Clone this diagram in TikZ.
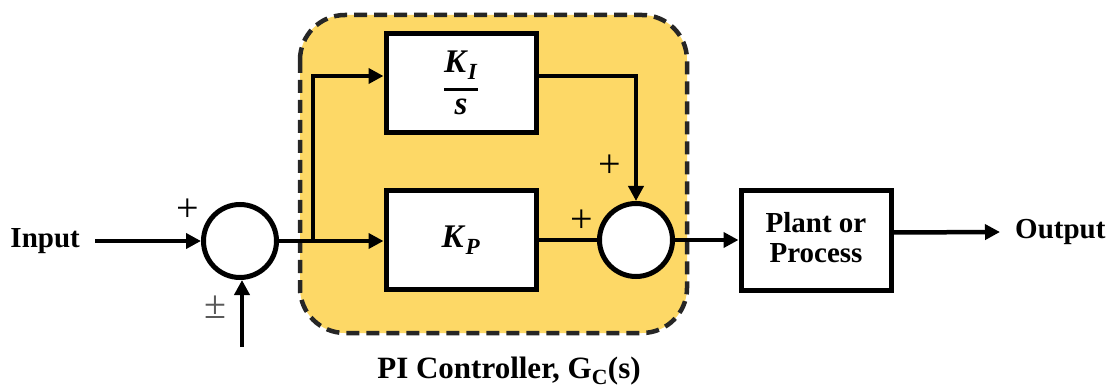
\documentclass[tikz,border=0pt]{standalone}
\usepackage{amsmath}
\usepackage{fontspec}
\setmainfont{Liberation Serif}
\usetikzlibrary{arrows.meta}
\definecolor{piyellow}{HTML}{FDD866}
\definecolor{dashgray}{HTML}{262626}
\tikzset{
  blk/.style={draw=black, line width=5pt, fill=white, minimum width=150pt, minimum height=99pt, inner sep=0pt, font=\fontsize{29}{34}\selectfont\bfseries},
  sumc/.style={circle, draw=black, line width=5pt, fill=white, minimum size=73pt, inner sep=0pt},
  arr/.style={line width=4.5pt, -{Triangle[length=15pt,width=15pt]}},
  ln/.style={line width=4.5pt},
  lbl/.style={font=\fontsize{29}{34}\selectfont\bfseries, inner sep=0pt},
  sgn/.style={font=\fontsize{40}{44}\selectfont, inner sep=0pt},
}
\begin{document}
\begin{tikzpicture}[x=1pt, y=-1pt]
\useasboundingbox (0,0) rectangle (1114,390);
% controller region
\draw[fill=piyellow, draw=dashgray, line width=4.5pt, dash pattern=on 13pt off 7pt, rounded corners=45pt] (300,15) rectangle (687,333);
\node[lbl, font=\fontsize{31}{36}\selectfont\bfseries] (cap) at (509,371) {PI Controller, G\textsubscript{C}(s)};
% blocks
\node[blk, font=\fontsize{33}{38}\selectfont] (ki) at (461,83) {$\genfrac{}{}{2.8pt}{0}{\textbf{\textit{K}}_{\textbf{\textit{I}}}}{\textbf{\textit{s}}}$};
\node[blk, font=\fontsize{33}{38}\selectfont] (kp) at (461,240) {$\textbf{\textit{K}}_{\textbf{\textit{P}}}$};
\node[blk, minimum height=100pt] (plant) at (816,240.5) {\begin{tabular}{c}Plant or\\[-4pt]Process\end{tabular}};
\node[sumc] (s1) at (240,241) {};
\node[sumc] (s2) at (636,240) {};
% text
\node[lbl, anchor=east] (in) at (80,241) {Input};
\node[lbl, anchor=west] (out) at (1015,232) {Output};
\node[sgn] (p1) at (188,210) {+};
\node[sgn, text=black!65] (pm) at (215,307) {±};
\node[sgn] (p2) at (610,166) {+};
\node[sgn] (p3) at (582,221) {+};
% coordinates
\coordinate (br) at (313,241);
\coordinate (fb) at (242,347);
\coordinate (kic) at (636,76);
% connectors
\draw[arr] ([xshift=15pt]in.east) -- (s1.west);
\draw[arr] (fb) -- (fb |- s1.south);
\draw[arr] (s1.east) -- (s1.east -| kp.west);
\draw[arr] (br) -- (br |- kic) -- ([yshift=7pt]ki.west);
\draw[arr] ([yshift=7pt]ki.east) -- (kic) -- (s2.north);
\draw[ln] (kp.east) -- (s2.west);
\draw[arr] (s2.east) -- (s2.east -| plant.west);
\draw[arr] ([yshift=8pt]plant.east) -- ([xshift=-15pt]out.west);
\end{tikzpicture}
\end{document}
